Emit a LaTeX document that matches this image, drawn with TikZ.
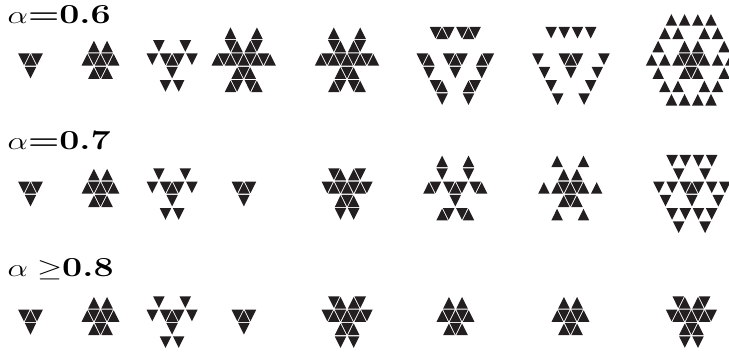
\documentclass[tikz,border=0pt]{standalone}
\usepackage{amsmath}
\usepackage{graphicx}
\usepackage{fontspec}
\usetikzlibrary{calc}
\definecolor{trifill}{RGB}{35,31,32}

% one pattern: left x, top y, parity, list of row/{cols}
\newcommand{\tripat}[4]{%
  \foreach \r/\cl in #4 {%
    \foreach \c in \cl {%
      \pgfmathsetmacro{\cx}{#1+(\c+1)*6.6}%
      \pgfmathtruncatemacro{\od}{mod(\r+\c+#3,2)}%
      \ifnum\od=0
        \pgfmathsetmacro{\cy}{#2+\r*13.3+8.87}%
        \fill[tri] (\cx,\cy) +(0,-7.72) -- +(-5.74,3.85) -- +(5.74,3.85) -- cycle;
      \else
        \pgfmathsetmacro{\cy}{#2+\r*13.3+4.43}%
        \fill[tri] (\cx,\cy) +(0,7.72) -- +(-5.74,-3.85) -- +(5.74,-3.85) -- cycle;
      \fi
    }}}

\def\patA{0/{0,1,2},1/{1}}
\def\patB{0/{1,3},1/{0,1,2,3,4},2/{1,2,3}}
\def\patC{0/{1,5},1/{0,2,3,4,6},2/{3},3/{2,4}}
\def\patD{0/{2,6},1/{2,3,5,6},2/{0,1,2,3,4,5,6,7,8},3/{3,4,5},4/{2,3,5,6}}
\def\patE{0/{2,3,4,6,7,8},2/{0,1,4,5,6,9,10},3/{1,5,9},4/{2,3,7,8},5/{3,7}}
\def\patF{0/{2,4,6,8},2/{0,4,5,6,10},3/{1,5,9},4/{2,8},5/{3,7}}
\def\patG{0/{3,5,7,9},1/{2,4,8,10},2/{1,5,7,11},3/{0,2,4,5,6,7,8,10,12},4/{1,5,6,7,11},5/{2,4,8,10},6/{3,5,7,9}}
\def\patH{0/{1,2,4,5},1/{0,1,2,3,4,5,6},2/{2,3,4},3/{2,4}}
\def\patI{0/{2,6},1/{2,6},2/{0,1,3,4,5,7,8},3/{4},4/{2,3,5,6}}
\def\patJ{0/{2,6},1/{3,5},2/{0,2,3,4,5,6,8},3/{3,4,5},4/{2,6}}
\def\patK{0/{2,4,6,8},1/{3,7},2/{0,2,4,5,6,8,10},3/{1,5,9},4/{2,4,6,8},5/{3,7}}

\begin{document}
\begin{tikzpicture}[x=1pt, y=-1pt, tri/.style={fill=trifill},
  lbl/.style={anchor=base west, inner sep=0pt, font=\fontsize{27.5}{30}\selectfont}]
  \useasboundingbox (0,0) rectangle (729,354);
  \clip (0,0) rectangle (729,354);
  % labels
  \node[lbl] (a6) at (7.5,23.3)  {\scalebox{1.3}[1]{$\alpha$\textbf{=0.6}}};
  \node[lbl] (a7) at (7.5,149.3) {\scalebox{1.3}[1]{$\alpha$\textbf{=0.7}}};
  \node[lbl] (a8) at (7.5,276.7) {\scalebox{1.3}[1]{$\alpha\geq$\textbf{0.8}}};
  % alpha = 0.6
  \tripat{17.3}{52.9}{1}{\patA}
  \tripat{80.7}{39.6}{1}{\patB}
  \tripat{145.7}{39.6}{0}{\patC}
  \tripat{210.7}{26.3}{0}{\patD}
  \tripat{314}{26.3}{0}{\patD}
  \tripat{415.7}{26.3}{1}{\patE}
  \tripat{531.3}{26.3}{1}{\patF}
  \tripat{645}{13}{1}{\patG}
  % alpha = 0.7
  \tripat{17.3}{181}{1}{\patA}
  \tripat{80.7}{167.7}{1}{\patB}
  \tripat{145.7}{167.7}{0}{\patC}
  \tripat{230.7}{181}{1}{\patA}
  \tripat{320.7}{167.7}{0}{\patH}
  \tripat{422.3}{154.4}{0}{\patI}
  \tripat{537.3}{154.4}{0}{\patJ}
  \tripat{652.3}{154.4}{1}{\patK}
  % alpha >= 0.8
  \tripat{17.3}{309.1}{1}{\patA}
  \tripat{80.7}{295.8}{1}{\patB}
  \tripat{145.7}{295.8}{0}{\patC}
  \tripat{230.7}{309.1}{1}{\patA}
  \tripat{320.7}{295.8}{0}{\patH}
  \tripat{435.7}{295.8}{1}{\patB}
  \tripat{550.7}{295.8}{1}{\patB}
  \tripat{665}{295.8}{0}{\patH}
\end{tikzpicture}
\end{document}
